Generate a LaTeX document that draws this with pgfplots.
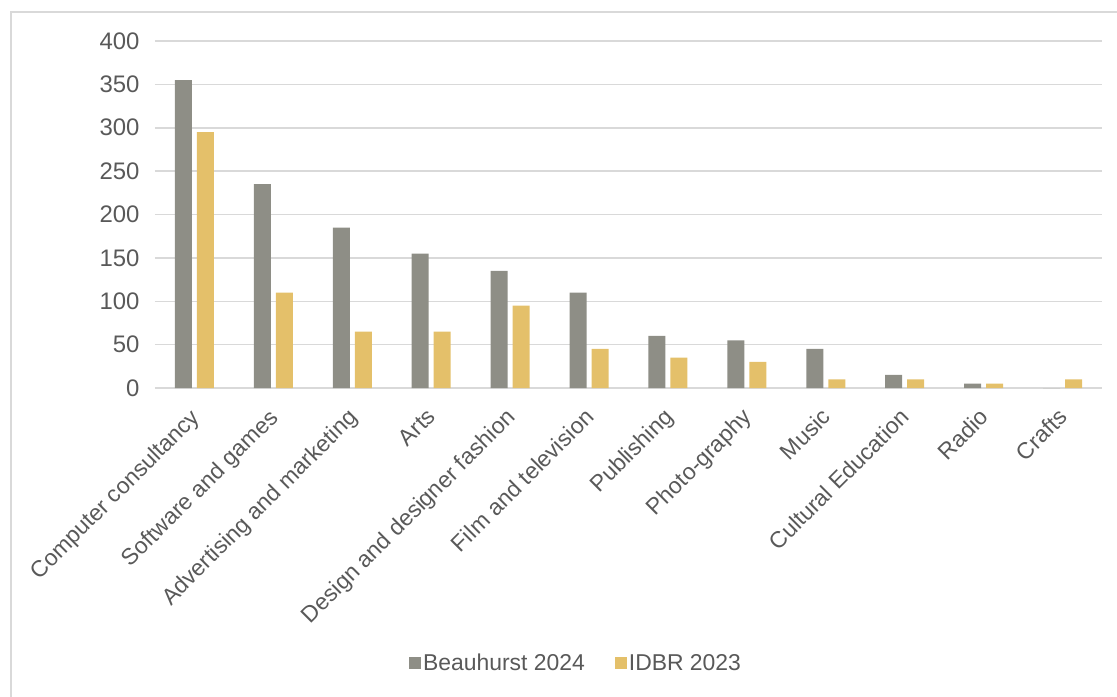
\documentclass[border=0pt]{standalone}
\usepackage{pgfplots}
\pgfplotsset{compat=1.18}
\usepackage{fontspec}
\setmainfont{Liberation Sans}
\definecolor{grayb}{RGB}{142,142,134}
\definecolor{yellowb}{RGB}{228,192,106}
\definecolor{gridc}{RGB}{217,217,217}
\definecolor{txt}{RGB}{89,89,89}
\begin{document}
\begin{tikzpicture}
\useasboundingbox (-155bp,-309bp) rectangle (962bp,388bp);
\draw[gridc, line width=1.5bp] (-144bp,-320bp) -- (-144bp,376bp) -- (970bp,376bp);
\begin{axis}[
  at={(0,0)}, anchor=south west,
  scale only axis, width=947bp, height=347bp,
  ybar=5bp, bar width=17bp,
  xmin=-0.5, xmax=11.5, ymin=0, ymax=400,
  xtick=data,
  xticklabels={Computer consultancy,Software and games,Advertising and marketing,Arts,Design and designer fashion,Film and television,Publishing,Photo-graphy,Music,Cultural Education,Radio,Crafts},
  ytick={0,50,...,400},
  ymajorgrids, grid style={gridc, line width=1.5bp},
  axis y line*=left,
  y axis line style={draw=none},
  axis x line*=bottom,
  x axis line style={gridc, line width=1.5bp, -},
  major tick length=0pt,
  tick label style={font=\fontsize{23}{27}\selectfont, text=txt},
  xticklabel style={rotate=45, anchor=north east, xshift=-14bp, yshift=-6bp},
  yticklabel style={xshift=-12bp, font=\fontsize{24}{28}\selectfont},
  /pgf/number format/assume math mode=true,
  legend style={draw=none, at={(0.4446,-0.7925)}, anchor=center, font=\fontsize{23}{27}\selectfont, text=txt, legend columns=2, /tikz/every even column/.append style={column sep=28bp}},
  legend image code/.code={\fill[#1] (0bp,-6bp) rectangle (12bp,6bp);},
]
\addplot[fill=grayb, draw=none] coordinates {(0,355) (1,235) (2,185) (3,155) (4,135) (5,110) (6,60) (7,55) (8,45) (9,15) (10,5) (11,0)};
\addplot[fill=yellowb, draw=none] coordinates {(0,295) (1,110) (2,65) (3,65) (4,95) (5,45) (6,35) (7,30) (8,10) (9,10) (10,5) (11,10)};
\legend{Beauhurst 2024,IDBR 2023}
\end{axis}
\end{tikzpicture}
\end{document}
